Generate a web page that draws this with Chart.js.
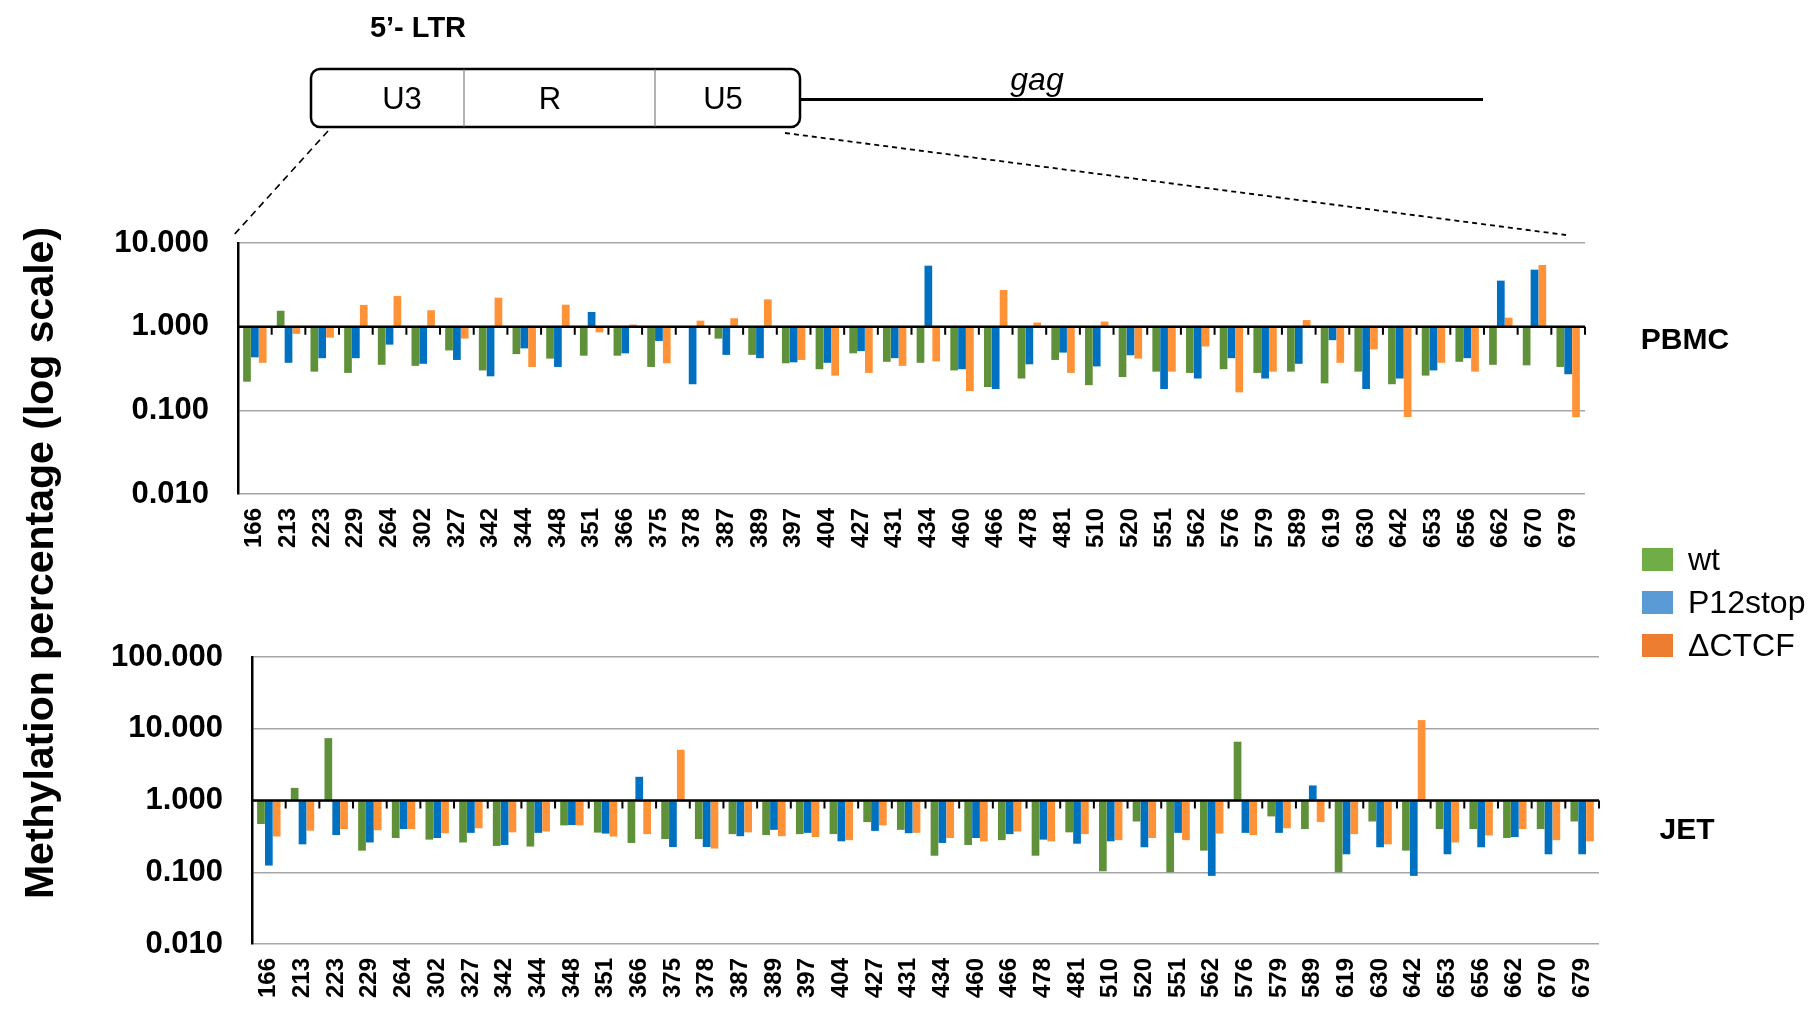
<!DOCTYPE html>
<html>
<head>
<meta charset="utf-8">
<script src="https://cdn.jsdelivr.net/npm/chart.js@4.4.1/dist/chart.umd.min.js"></script>
<style>
  body { margin: 0; background: #fff; font-family: 'Liberation Sans', Arial, sans-serif; }
  #page { position: relative; width: 1816px; height: 1009px; overflow: hidden; }
  canvas { position: absolute; left: 0; }
  #diagram { position: absolute; left: 0; top: 0; width: 1816px; height: 1009px; pointer-events: none; }
  .ytitle { position: absolute; left: 39px; top: 563px; transform: translate(-50%, -50%) rotate(-90deg);
            font-weight: bold; font-size: 41px; white-space: nowrap; color: #000; }
  .panel { position: absolute; transform: translate(-50%, -50%); font-weight: bold; font-size: 30px; }
  .leg { position: absolute; left: 1642px; display: flex; align-items: center; font-size: 32px; }
  .leg span { display: inline-block; width: 31px; height: 23px; margin-right: 15px; }
</style>
</head>
<body>
<div id="page">
  <canvas id="pbmcChart" width="1600" height="340" style="top:220px"></canvas>
  <canvas id="jetChart" width="1616" height="379" style="top:630px"></canvas>

  <svg id="diagram" xmlns="http://www.w3.org/2000/svg">
    <text x="418" y="27" text-anchor="middle" dominant-baseline="central" font-family="Liberation Sans" font-weight="bold" font-size="29">5’- LTR</text>
    <rect x="311" y="69" width="489" height="58" rx="9" fill="#fff" stroke="#000" stroke-width="2.5"/>
    <line x1="464" y1="69" x2="464" y2="127" stroke="#666" stroke-width="1"/>
    <line x1="655" y1="69" x2="655" y2="127" stroke="#666" stroke-width="1"/>
    <text x="402" y="98" text-anchor="middle" dominant-baseline="central" font-family="Liberation Sans" font-size="31">U3</text>
    <text x="550" y="98" text-anchor="middle" dominant-baseline="central" font-family="Liberation Sans" font-size="31">R</text>
    <text x="723" y="98" text-anchor="middle" dominant-baseline="central" font-family="Liberation Sans" font-size="31">U5</text>
    <line x1="800" y1="99.5" x2="1483" y2="99.5" stroke="#000" stroke-width="3"/>
    <text x="1037" y="79" text-anchor="middle" dominant-baseline="central" font-family="Liberation Sans" font-style="italic" font-size="32">gag</text>
    <line x1="328" y1="131" x2="232" y2="237" stroke="#000" stroke-width="1.6" stroke-dasharray="7 5"/>
    <line x1="785" y1="133" x2="1566" y2="235" stroke="#000" stroke-width="1.8" stroke-dasharray="5 4"/>
  </svg>

  <div class="ytitle">Methylation percentage (log scale)</div>
  <div class="panel" style="left:1685px; top:339px">PBMC</div>
  <div class="panel" style="left:1687px; top:829px">JET</div>

  <div class="leg" style="top:541px"><span style="background:#70AD47"></span>wt</div>
  <div class="leg" style="top:584px"><span style="background:#5B9BD5"></span>P12stop</div>
  <div class="leg" style="top:627px"><span style="background:#ED7D31"></span>ΔCTCF</div>
</div>

<script>
// CpG positions along the 5' LTR
const sites = ['166','213','223','229','264','302','327','342','344','348','351','366','375','378','387',
  '389','397','404','427','431','434','460','466','478','481','510','520','551','562','576','579','589',
  '619','630','642','653','656','662','670','679'];

const seriesNames = ['wt', 'P12stop', 'ΔCTCF'];
const barColors = ['#5E9139', '#0070C0', '#FF9137'];

// PBMC methylation (%)
const pbmcWt = [0.22,1.55,0.29,0.28,0.35,0.34,0.52,0.30,0.47,0.415,0.45,0.45,0.33,1.0,0.72,
  0.46,0.365,0.31,0.48,0.38,0.37,0.30,0.19,0.24,0.40,0.20,0.25,0.29,0.28,0.31,0.28,0.29,
  0.21,0.29,0.205,0.26,0.38,0.35,0.345,0.33];
const pbmcP12 = [0.43,0.37,0.42,0.42,0.61,0.36,0.40,0.255,0.55,0.33,1.5,0.48,0.675,0.205,0.46,
  0.42,0.375,0.37,0.51,0.42,5.36,0.31,0.18,0.355,0.49,0.335,0.455,0.18,0.24,0.42,0.24,0.36,
  0.69,0.18,0.24,0.30,0.42,3.55,4.8,0.27];
const pbmcCtcf = [0.37,0.82,0.74,1.82,2.33,1.57,0.72,2.22,0.33,1.83,0.855,1.06,0.365,1.18,1.26,
  2.12,0.40,0.26,0.28,0.34,0.385,0.17,2.74,1.12,0.28,1.15,0.415,0.29,0.58,0.164,0.29,1.2,
  0.37,0.535,0.083,0.37,0.29,1.28,5.46,0.083];

// JET methylation (%)
const jetWt = [0.47,1.5,7.4,0.20,0.30,0.285,0.26,0.233,0.228,0.45,0.357,0.256,0.29,0.29,0.34,
  0.33,0.34,0.34,0.50,0.39,0.17,0.24,0.28,0.17,0.36,0.103,0.51,0.10,0.20,6.6,0.60,0.40,
  0.10,0.51,0.20,0.40,0.40,0.30,0.40,0.51];
const jetP12 = [0.124,0.245,0.33,0.26,0.40,0.30,0.354,0.24,0.354,0.455,0.346,2.14,0.225,0.225,0.318,
  0.39,0.354,0.27,0.377,0.35,0.256,0.30,0.34,0.285,0.25,0.27,0.223,0.354,0.089,0.354,0.354,1.62,
  0.178,0.223,0.089,0.178,0.223,0.31,0.178,0.178];
const jetCtcf = [0.315,0.38,0.40,0.385,0.40,0.35,0.41,0.36,0.37,0.45,0.315,0.34,5.1,0.214,0.36,
  0.318,0.31,0.28,0.45,0.354,0.30,0.27,0.37,0.27,0.34,0.28,0.30,0.28,0.346,0.33,0.41,0.50,
  0.34,0.245,13.2,0.26,0.325,0.40,0.28,0.27];

const pbmcTicks = [0.01, 0.1, 1, 10];
const jetTicks = [0.01, 0.1, 1, 10, 100];

// black baseline at 1.000 with small tick marks between the sites
const unityAxis = {
  id: 'unityAxis',
  afterDatasetsDraw(chart) {
    const { ctx, chartArea: a, scales: { y } } = chart;
    const y1 = y.getPixelForValue(1);
    const n = chart.data.labels.length;
    const step = (a.right - a.left) / n;
    ctx.save();
    ctx.strokeStyle = '#000';
    ctx.lineWidth = 2.5;
    ctx.beginPath();
    ctx.moveTo(a.left, y1);
    ctx.lineTo(a.right, y1);
    ctx.stroke();
    ctx.lineWidth = 2;
    ctx.beginPath();
    for (let i = 0; i <= n; i++) {
      const xp = a.left + i * step;
      ctx.moveTo(xp, y1);
      ctx.lineTo(xp, y1 + 8);
    }
    ctx.stroke();
    ctx.restore();
  }
};

function makeChart(id, values, ticks, padTop, padRight, yWidth, xHeight) {
  return new Chart(document.getElementById(id), {
    type: 'bar',
    data: {
      labels: sites,
      datasets: values.map((d, i) => ({
        label: seriesNames[i],
        data: d,
        backgroundColor: barColors[i],
        base: 1,
        categoryPercentage: 0.7,
        barPercentage: 0.98
      }))
    },
    options: {
      responsive: false,
      animation: false,
      devicePixelRatio: 1,
      layout: { padding: { top: padTop, right: padRight, left: 0, bottom: 0 } },
      plugins: { legend: { display: false }, tooltip: { enabled: false } },
      scales: {
        x: {
          grid: { display: false, drawTicks: false },
          border: { display: false },
          ticks: {
            autoSkip: false, minRotation: 90, maxRotation: 90, padding: 14, color: '#000',
            font: { family: 'Liberation Sans', weight: 'bold', size: 24 }
          },
          afterFit(s) {
            s.height = xHeight;
            s.paddingLeft = 0;
            s.paddingRight = 0;
          }
        },
        y: {
          type: 'logarithmic',
          min: ticks[0],
          max: ticks[ticks.length - 1],
          grid: { color: '#a6a6a6', lineWidth: 1.5, drawTicks: false },
          border: { color: '#000', width: 2.5 },
          ticks: {
            padding: 29, color: '#000',
            font: { family: 'Liberation Sans', weight: 'bold', size: 31 },
            callback: v => Number(v).toFixed(3)
          },
          afterBuildTicks(s) { s.ticks = ticks.map(v => ({ value: v })); },
          afterFit(s) {
            s.width = yWidth;
            s.paddingTop = 0;
            s.paddingBottom = 0;
          }
        }
      }
    },
    plugins: [unityAxis]
  });
}

makeChart('pbmcChart', [pbmcWt, pbmcP12, pbmcCtcf], pbmcTicks, 23, 15, 238, 66);
makeChart('jetChart', [jetWt, jetP12, jetCtcf], jetTicks, 27, 17, 252, 65);
</script>
</body>
</html>
